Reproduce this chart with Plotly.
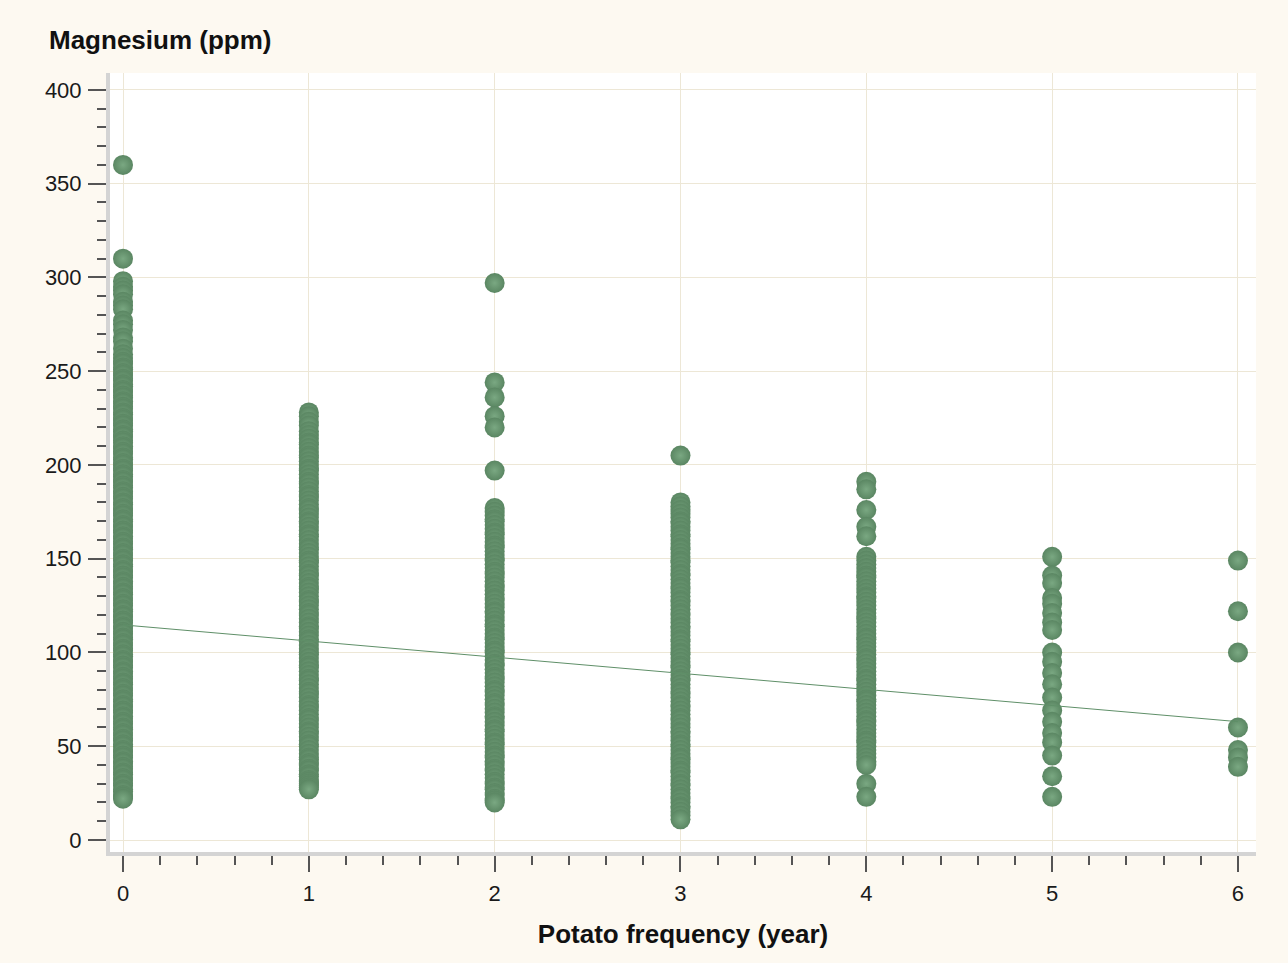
import plotly.graph_objects as go

# Magnesium (ppm) observations grouped by potato frequency (years)
freq_levels = [0, 1, 2, 3, 4, 5, 6]

mg_freq0 = [360, 310, 298, 295, 293, 291, 287, 285, 283, 277, 275, 272, 268, 266, 262,
            259, 257, 255, 254, 252, 251, 249, 248, 246, 245, 243, 242, 240, 239, 237,
            236, 234, 233, 231, 230, 228, 227, 225, 224, 222, 221, 219, 218, 216, 215,
            213, 212, 210, 209, 207, 206, 204, 203, 201, 200, 198, 197, 195, 194, 192,
            191, 189, 188, 186, 185, 183, 182, 180, 179, 177, 176, 174, 173, 171, 170,
            168, 167, 165, 164, 162, 161, 159, 158, 156, 155, 153, 152, 150, 149, 147,
            146, 144, 143, 141, 140, 138, 137, 135, 134, 132, 131, 129, 128, 126, 125,
            123, 122, 120, 119, 117, 116, 114, 113, 111, 110, 108, 107, 105, 104, 102,
            101, 99, 98, 96, 95, 93, 92, 90, 89, 87, 86, 84, 83, 81, 80, 78, 77, 75, 74,
            72, 71, 69, 68, 66, 65, 63, 62, 60, 59, 57, 56, 54, 53, 51, 50, 48, 47, 45,
            44, 42, 41, 39, 38, 36, 35, 33, 32, 30, 29, 27, 26, 24, 23, 22]
mg_freq1 = [228, 226, 223, 221, 218, 216, 214, 212, 211, 209, 207, 205, 204, 202, 200,
            198, 197, 195, 193, 191, 190, 188, 186, 184, 183, 181, 179, 177, 176, 174,
            172, 170, 169, 167, 165, 163, 162, 160, 158, 156, 155, 153, 151, 149, 148,
            146, 144, 142, 141, 139, 137, 135, 134, 132, 130, 128, 127, 125, 123, 121,
            120, 118, 116, 114, 113, 111, 109, 107, 106, 104, 102, 100, 99, 97, 95, 93,
            92, 90, 88, 86, 85, 83, 81, 79, 78, 76, 74, 72, 71, 69, 67, 65, 64, 62, 60,
            58, 57, 55, 53, 51, 50, 48, 46, 44, 43, 41, 40, 38, 37, 35, 34, 32, 31, 30,
            29, 28, 27]
mg_freq2 = [297, 244, 236, 226, 220, 197, 177, 175, 173, 171, 170, 168, 166, 164, 163,
            161, 159, 157, 156, 154, 152, 150, 149, 147, 145, 143, 142, 140, 138, 136,
            135, 133, 131, 129, 128, 126, 124, 122, 121, 119, 117, 115, 114, 112, 110,
            108, 107, 105, 103, 101, 100, 98, 96, 94, 93, 91, 89, 87, 86, 84, 82, 80,
            79, 77, 75, 73, 72, 70, 68, 66, 65, 63, 61, 59, 58, 56, 54, 52, 51, 49, 47,
            45, 44, 42, 40, 38, 37, 35, 33, 31, 30, 28, 27, 25, 24, 22, 21, 20]
mg_freq3 = [205, 180, 178, 176, 174, 172, 170, 169, 167, 165, 163, 162, 160, 158, 156,
            155, 153, 151, 149, 148, 146, 144, 142, 141, 139, 137, 135, 134, 132, 130,
            128, 127, 125, 123, 121, 120, 118, 116, 114, 113, 111, 109, 107, 106, 104,
            102, 100, 99, 97, 95, 93, 92, 90, 88, 86, 85, 83, 81, 79, 78, 76, 74, 72,
            71, 69, 67, 65, 64, 62, 60, 58, 57, 55, 53, 51, 50, 48, 46, 44, 43, 41, 39,
            37, 36, 34, 32, 30, 29, 27, 25, 23, 22, 20, 18, 17, 15, 13, 11]
mg_freq4 = [191, 187, 176, 167, 162, 151, 149, 147, 145, 143, 141, 140, 138, 136, 134,
            132, 130, 129, 127, 125, 123, 121, 119, 118, 116, 114, 112, 110, 108, 107,
            105, 103, 101, 99, 97, 96, 94, 92, 90, 88, 86, 85, 83, 81, 79, 77, 75, 74,
            72, 70, 68, 66, 64, 63, 61, 59, 57, 55, 53, 52, 50, 48, 46, 44, 42, 40, 30,
            23]
mg_freq5 = [151, 141, 137, 129, 126, 121, 116, 112, 100, 95, 89, 83, 76, 69, 63, 57,
            52, 45, 34, 23]
mg_freq6 = [149, 122, 100, 60, 48, 44, 39]

mg_by_freq = [mg_freq0, mg_freq1, mg_freq2, mg_freq3, mg_freq4, mg_freq5, mg_freq6]

# Least-squares line fitted to Magnesium vs frequency
fit_intercept = 114.7
fit_slope = -8.6
fit_x = [0, 6]

x_tick_vals = [0, 1, 2, 3, 4, 5, 6]
y_tick_vals = [0, 50, 100, 150, 200, 250, 300, 350, 400]

xs, ys = [], []
for f, vals in zip(freq_levels, mg_by_freq):
    xs.extend([f] * len(vals))
    ys.extend(vals)

fig = go.Figure()
fig.add_trace(go.Scatter(
    x=xs, y=ys, mode="markers",
    marker=dict(size=20, color="#5a8662",
                gradient=dict(type="radial", color="#7aa882"),
                line=dict(width=0)),
    showlegend=False, hoverinfo="x+y",
))
fig.add_trace(go.Scatter(
    x=fit_x, y=[fit_intercept + fit_slope * v for v in fit_x],
    mode="lines", line=dict(color="#5f8f68", width=1),
    showlegend=False, hoverinfo="skip",
))

font_family = "Arial, Liberation Sans, sans-serif"
axis_font = dict(family=font_family, size=22, color="#1a1a1a")
title_font = dict(family=font_family, size=26, color="#111111")
grid_col = "#ede7d6"

fig.update_layout(
    width=1288, height=963,
    paper_bgcolor="#fdf9f1", plot_bgcolor="#ffffff",
    margin=dict(l=110, r=32, t=73, b=111),
    font=axis_font,
    annotations=[dict(
        text="<b>Magnesium (ppm)</b>", xref="paper", yref="paper",
        x=-63 / 1146, y=1 + 33 / 779, xanchor="left", yanchor="middle",
        showarrow=False, font=title_font,
    )],
    xaxis=dict(
        range=[-0.07, 6.097], tickvals=x_tick_vals, ticks="outside", ticklen=16,
        tickwidth=2, tickcolor="#555555", showline=True, linewidth=4,
        linecolor="#d4d4d4", showgrid=True, gridcolor=grid_col, gridwidth=1,
        zeroline=False, tickfont=axis_font, ticklabelstandoff=3,
        minor=dict(dtick=0.2, ticks="outside", ticklen=9, tickwidth=2,
                   tickcolor="#555555", showgrid=False),
        title=dict(text="<b>Potato frequency (year)</b>", standoff=20,
                   font=title_font),
    ),
    yaxis=dict(
        range=[-6.4, 409], tickvals=y_tick_vals, ticks="outside", ticklen=18,
        tickwidth=2, tickcolor="#555555", showline=True, linewidth=4,
        linecolor="#d4d4d4", showgrid=True, gridcolor=grid_col, gridwidth=1,
        zeroline=False, tickfont=axis_font, ticklabelstandoff=2,
        minor=dict(dtick=10, ticks="outside", ticklen=9, tickwidth=2,
                   tickcolor="#555555", showgrid=False),
    ),
)

fig.write_html("out.html")
